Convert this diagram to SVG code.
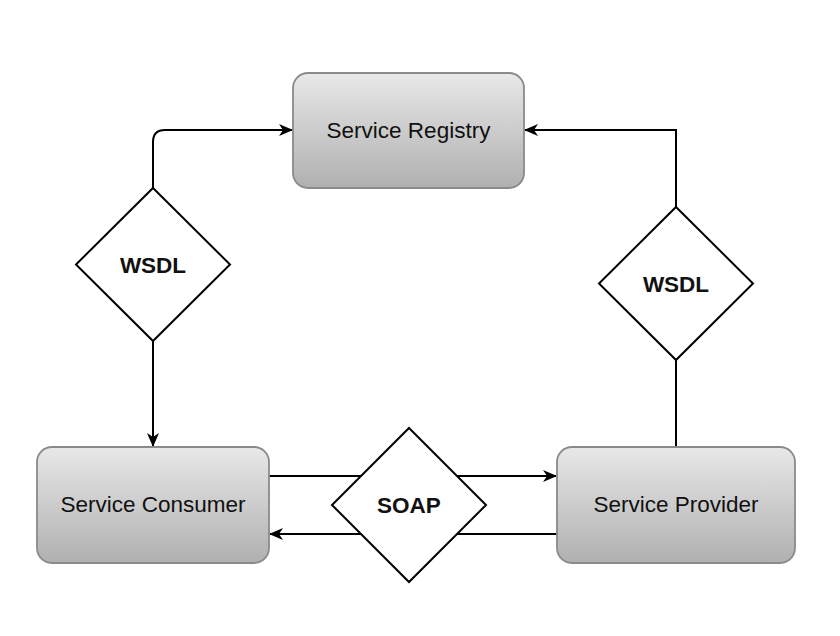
<svg xmlns="http://www.w3.org/2000/svg" width="840" height="636" viewBox="0 0 840 636">
<style>
.box{fill:url(#g);stroke:#8a8a8a;stroke-width:1.8}
.dia{fill:#fff;stroke:#000;stroke-width:2}
.lbl{font-family:"Liberation Sans",Arial,sans-serif;font-size:22.5px;fill:#111;text-anchor:middle}
.b{font-weight:bold}
.c{fill:none;stroke:#000;stroke-width:2}
</style>
<defs>
<linearGradient id="g" x1="0" y1="0" x2="0" y2="1">
<stop offset="0" stop-color="#e8e8e8"/>
<stop offset="1" stop-color="#b0b0b0"/>
</linearGradient>
<marker id="a" viewBox="0 0 14 12" refX="13" refY="6" markerWidth="14" markerHeight="12" markerUnits="userSpaceOnUse" orient="auto">
<path d="M0,0 L14,6 L0,12 L4,6 Z" fill="#000"/>
</marker>
</defs>
<rect width="840" height="636" fill="#fff"/>
<g id="connectors">
<path class="c" d="M153,188 V142 Q153,130 165,130 H292" marker-end="url(#a)"/>
<path class="c" d="M153,341 V446" marker-end="url(#a)"/>
<path class="c" d="M676,447 V360"/>
<path class="c" d="M676,207 V130 H525" marker-end="url(#a)"/>
<path class="c" d="M269,476 H556" marker-end="url(#a)"/>
<path class="c" d="M557,534 H270" marker-end="url(#a)"/>
</g>
<g id="registry">
<rect class="box" x="293" y="73" width="231" height="115" rx="15"/>
<text class="lbl" x="408.5" y="138">Service Registry</text>
</g>
<g id="consumer">
<rect class="box" x="37" y="447" width="232" height="116" rx="15"/>
<text class="lbl" x="153" y="512">Service Consumer</text>
</g>
<g id="provider">
<rect class="box" x="557" y="447" width="238" height="116" rx="15"/>
<text class="lbl" x="676" y="512">Service Provider</text>
</g>
<g id="wsdl-left">
<path class="dia" d="M153,188 L230,264.5 L153,341 L76,264.5 Z"/>
<text class="lbl b" x="153" y="272.5">WSDL</text>
</g>
<g id="wsdl-right">
<path class="dia" d="M676,207 L753,283.5 L676,360 L599,283.5 Z"/>
<text class="lbl b" x="676" y="291.5">WSDL</text>
</g>
<g id="soap">
<path class="dia" d="M409,428 L486,505 L409,582 L332,505 Z"/>
<text class="lbl b" x="409" y="513">SOAP</text>
</g>
</svg>
